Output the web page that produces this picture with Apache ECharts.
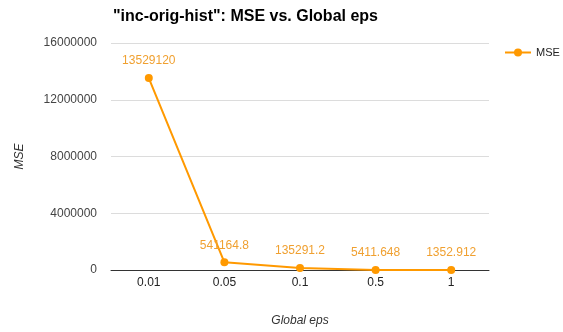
<!DOCTYPE html>
<html>
<head>
<meta charset="utf-8">
<script src="https://cdn.jsdelivr.net/npm/echarts@6/dist/echarts.min.js"></script>
<style>
  html, body { margin: 0; padding: 0; background: #fff; }
  #chart { width: 563px; height: 332px; }
</style>
</head>
<body>
<div id="chart"></div>
<script>
// Global epsilon settings on the x axis
const categories = ['0.01', '0.05', '0.1', '0.5', '1'];
// Mean squared error at each epsilon
const mseValues = [13529120, 541164.8, 135291.2, 5411.648, 1352.912];
// Value axis ticks
const yTicks = [0, 4000000, 8000000, 12000000, 16000000];

const FONT = 'Arial, Liberation Sans, sans-serif';
const chart = echarts.init(document.getElementById('chart'), null, { renderer: 'canvas' });
chart.setOption({
  animation: false,
  backgroundColor: '#ffffff',
  title: {
    text: '"inc-orig-hist": MSE vs. Global eps',
    left: 108,
    top: 4,
    textStyle: { fontFamily: FONT, fontSize: 16, fontWeight: 'bold', color: '#000' }
  },
  legend: {
    data: ['MSE'],
    left: 499,
    top: 42,
    itemWidth: 26,
    itemHeight: 10,
    itemGap: 6,
    textStyle: { fontFamily: FONT, fontSize: 11, color: '#222' }
  },
  grid: { left: 111, right: 74, top: 43, bottom: 56, containLabel: false },
  xAxis: {
    type: 'category',
    data: categories,
    name: 'Global eps',
    nameLocation: 'middle',
    nameGap: 45,
    nameTextStyle: { fontFamily: FONT, fontSize: 12, fontStyle: 'italic', color: '#333' },
    axisLine: { show: true, lineStyle: { color: '#333', width: 1 } },
    axisTick: { show: false },
    axisLabel: { fontFamily: FONT, fontSize: 12, color: '#222', margin: 7 }
  },
  yAxis: {
    type: 'value',
    min: yTicks[0],
    max: yTicks[yTicks.length - 1],
    interval: yTicks[1] - yTicks[0],
    name: 'MSE',
    nameLocation: 'middle',
    nameGap: 85,
    nameTextStyle: { fontFamily: FONT, fontSize: 12, fontStyle: 'italic', color: '#333' },
    axisLine: { show: false },
    axisTick: { show: false },
    splitLine: { lineStyle: { color: '#dcdcdc', width: 1 } },
    axisLabel: { fontFamily: FONT, fontSize: 12, color: '#444', margin: 14, formatter: v => String(v) }
  },
  series: [{
    name: 'MSE',
    type: 'line',
    data: mseValues,
    symbol: 'circle',
    symbolSize: 8,
    color: '#ff9900',
    lineStyle: { width: 2, color: '#ff9900' },
    itemStyle: { color: '#ff9900' },
    label: {
      show: true,
      position: 'top',
      distance: 7,
      fontFamily: FONT,
      fontSize: 12,
      color: '#f0a030'
    }
  }]
});
</script>
</body>
</html>
